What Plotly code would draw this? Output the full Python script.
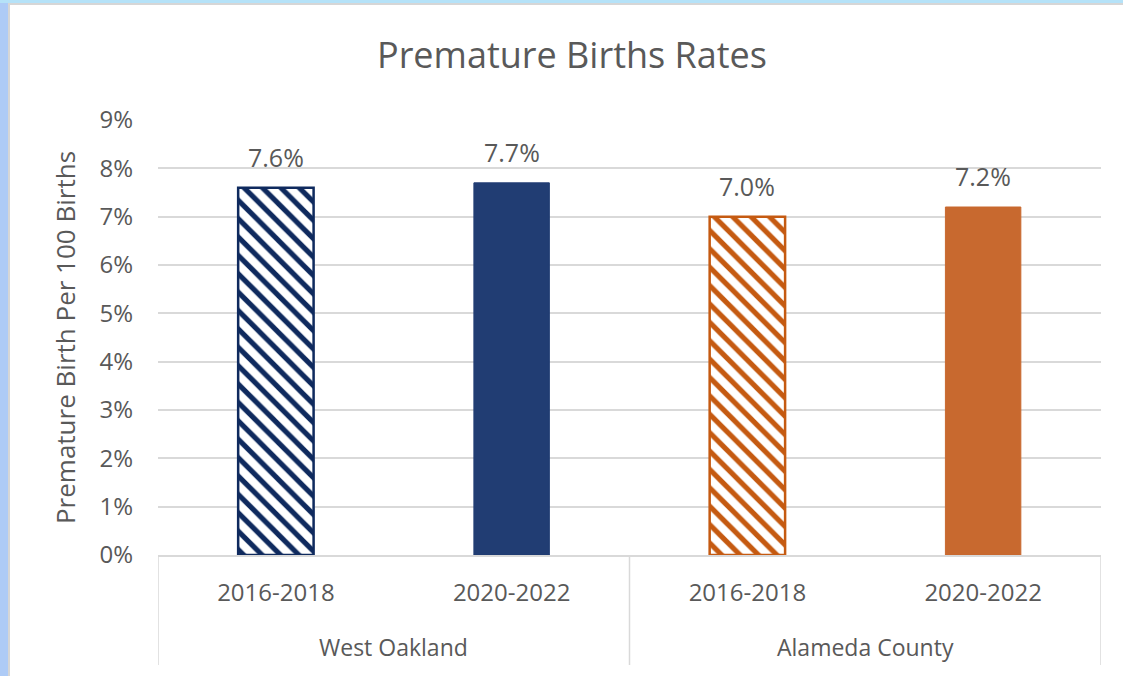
import plotly.graph_objects as go

regions = ["West Oakland", "West Oakland", "Alameda County", "Alameda County"]
periods = ["2016-2018", "2020-2022", "2016-2018", "2020-2022"]
rates = [0.076, 0.077, 0.070, 0.072]
hatched = [True, False, True, False]
colors = ["#0F2A5E", "#213D73", "#C55A11", "#C8692F"]

title_text = "Premature Births Rates"
y_title = "Premature Birth Per 100 Births"

FONT = "Open Sans"
GREY = "#595959"
LINE = "#D9D9D9"

W, H = 1123, 676
L, R, T, B = 158, 22, 120, 121
pw, ph = W - L - R, H - T - B


def px_x(p):
    return (p - L) / pw


def px_y(p):
    return (H - B - p) / ph


idx = list(range(len(rates)))

fig = go.Figure()
for i in idx:
    c = colors[i]
    if hatched[i]:
        marker = dict(color="white", line=dict(color=c, width=2.5),
                      pattern=dict(shape="\\", fgcolor=c, bgcolor="white",
                                   size=13, solidity=0.4, fillmode="replace"))
    else:
        marker = dict(color=c, line=dict(color=c, width=1))
    fig.add_trace(go.Bar(
        x=[i], y=[rates[i]], width=0.32, marker=marker,
        showlegend=False, hoverinfo="skip",
    ))
    fig.add_annotation(
        x=i, y=rates[i], xref="x", yref="y",
        text=f"{rates[i] * 100:.1f}%", showarrow=False,
        yanchor="bottom", yshift=12,
        font=dict(family=FONT, size=25, color=GREY),
    )

# group labels and dividers (derived from the regions list)
groups = []
for i, r in enumerate(regions):
    if not groups or groups[-1][0] != r:
        groups.append([r, i, i])
    else:
        groups[-1][2] = i

div_x = [groups[0][1] - 0.5] + [g[2] + 0.5 for g in groups]
for xv in div_x:
    fig.add_shape(type="line", xref="x", yref="paper", x0=xv, x1=xv,
                  y0=0, y1=px_y(665), line=dict(color=LINE, width=1.5))
for name, a, b in groups:
    fig.add_annotation(x=(a + b) / 2, y=px_y(647), xref="x", yref="paper",
                       text=name, showarrow=False, yanchor="middle",
                       font=dict(family=FONT, size=23, color=GREY))

fig.add_shape(type="rect", xref="paper", yref="paper",
              x0=px_x(9), x1=px_x(W + 30), y0=px_y(H + 30), y1=px_y(4),
              fillcolor="white", line=dict(color="#D6D6D6", width=2), layer="below")
fig.add_shape(type="rect", xref="paper", yref="paper",
              x0=px_x(-5), x1=px_x(W + 30), y0=px_y(3), y1=px_y(-5),
              fillcolor="#B5E2F8", line=dict(width=0), layer="below")

fig.update_layout(
    width=W, height=H,
    margin=dict(l=L, r=R, t=T, b=B),
    paper_bgcolor="#AECBF6",
    plot_bgcolor="rgba(0,0,0,0)",
    barmode="overlay",
    title=dict(text=title_text, x=572 / W, xref="container", xanchor="center",
               y=1 - 55 / H, yref="container", yanchor="middle",
               font=dict(family=FONT, size=36, color=GREY)),
    font=dict(family=FONT, color=GREY),
)
fig.update_xaxes(
    range=[-0.5, len(rates) - 0.5],
    tickmode="array", tickvals=idx, ticktext=periods,
    showline=True, linecolor=LINE, linewidth=1.5,
    tickfont=dict(family=FONT, size=24, color=GREY),
    ticklabelstandoff=15,
    showgrid=False, ticks="", zeroline=False,
)
fig.update_yaxes(
    range=[0, 0.09], dtick=0.01, tickformat=".0%",
    showgrid=True, gridcolor=LINE, gridwidth=1.5,
    zeroline=False,
    tickfont=dict(family=FONT, size=24, color=GREY),
    ticklabelstandoff=24,
    title=dict(text=y_title, font=dict(family=FONT, size=26, color=GREY), standoff=16),
)

fig.write_html("out.html", config={"displayModeBar": False},
               post_script="document.body.style.margin='0';document.body.style.overflow='hidden';")
